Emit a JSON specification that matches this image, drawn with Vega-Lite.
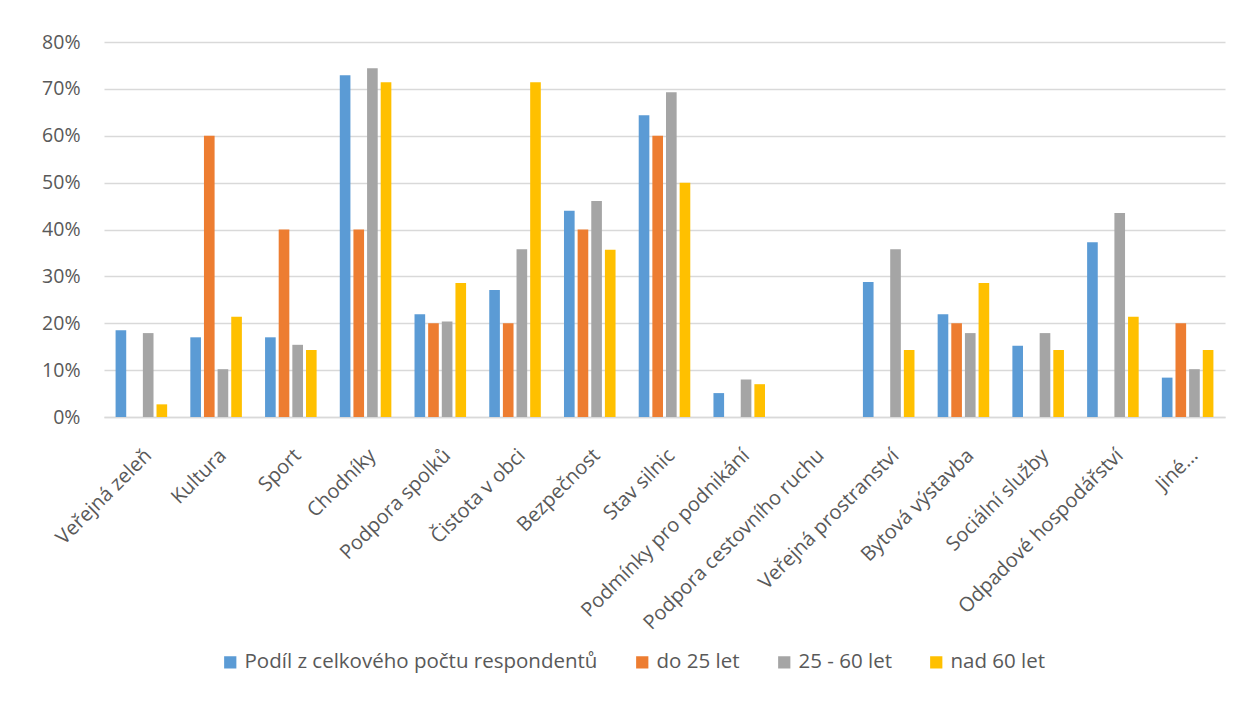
{
  "$schema": "https://vega.github.io/schema/vega-lite/v6.json",
  "autosize": {"type": "none"},
  "width": 1121,
  "height": 375,
  "padding": {"left": 104, "top": 42, "right": 17, "bottom": 305},
  "background": "white",
  "datasets": {
    "wide": [
      {"oblast": "Veřejná zeleň", "celkem": 18.5, "do25": 0, "s25_60": 17.9, "nad60": 2.7},
      {"oblast": "Kultura", "celkem": 17.0, "do25": 60, "s25_60": 10.2, "nad60": 21.4},
      {"oblast": "Sport", "celkem": 17.0, "do25": 40, "s25_60": 15.4, "nad60": 14.3},
      {"oblast": "Chodníky", "celkem": 72.9, "do25": 40, "s25_60": 74.4, "nad60": 71.4},
      {"oblast": "Podpora spolků", "celkem": 21.9, "do25": 20, "s25_60": 20.4, "nad60": 28.6},
      {"oblast": "Čistota v obci", "celkem": 27.1, "do25": 20, "s25_60": 35.8, "nad60": 71.4},
      {"oblast": "Bezpečnost", "celkem": 44.0, "do25": 40, "s25_60": 46.1, "nad60": 35.7},
      {"oblast": "Stav silnic", "celkem": 64.4, "do25": 60, "s25_60": 69.3, "nad60": 50.0},
      {"oblast": "Podmínky pro podnikání", "celkem": 5.1, "do25": 0, "s25_60": 8.0, "nad60": 7.0},
      {"oblast": "Podpora cestovního ruchu", "celkem": 0, "do25": 0, "s25_60": 0, "nad60": 0},
      {"oblast": "Veřejná prostranství", "celkem": 28.8, "do25": 0, "s25_60": 35.8, "nad60": 14.3},
      {"oblast": "Bytová výstavba", "celkem": 21.9, "do25": 20, "s25_60": 17.9, "nad60": 28.6},
      {"oblast": "Sociální služby", "celkem": 15.2, "do25": 0, "s25_60": 17.9, "nad60": 14.3},
      {"oblast": "Odpadové hospodářství", "celkem": 37.3, "do25": 0, "s25_60": 43.5, "nad60": 21.4},
      {"oblast": "Jiné...", "celkem": 8.4, "do25": 20, "s25_60": 10.2, "nad60": 14.3}
    ]
  },
  "data": {"name": "wide"},
  "transform": [
    {"fold": ["celkem", "do25", "s25_60", "nad60"], "as": ["key", "pct"]},
    {"lookup": "key", "from": {"data": {"values": [
      {"key": "celkem", "serie": "Podíl z celkového počtu respondentů", "ord": 0},
      {"key": "do25", "serie": "do 25 let", "ord": 1},
      {"key": "s25_60", "serie": "25 - 60 let", "ord": 2},
      {"key": "nad60", "serie": "nad 60 let", "ord": 3}
    ]}, "key": "key", "fields": ["serie", "ord"]}}
  ],
  "mark": {"type": "bar"},
  "encoding": {
    "x": {
      "field": "oblast", "type": "nominal", "sort": null,
      "scale": {"paddingInner": 0.31, "paddingOuter": 0.155},
      "axis": {
        "title": null, "labelAngle": -45, "labelAlign": "right", "labelBaseline": "top",
        "labelFont": "Open Sans", "labelFontSize": 20, "labelColor": "#595959",
        "ticks": false, "domain": true, "domainColor": "#D9D9D9", "domainWidth": 1.5,
        "labelPadding": 28, "labelDx": -16, "labelLimit": 400
      }
    },
    "xOffset": {
      "field": "serie", "type": "nominal",
      "sort": ["Podíl z celkového počtu respondentů", "do 25 let", "25 - 60 let", "nad 60 let"],
      "scale": {"paddingInner": 0.22}
    },
    "y": {
      "field": "pct", "type": "quantitative",
      "scale": {"domain": [0, 80], "nice": false},
      "axis": {
        "title": null, "values": [0, 10, 20, 30, 40, 50, 60, 70, 80],
        "labelExpr": "datum.value + '%'",
        "labelFont": "Open Sans", "labelFontSize": 19.5, "labelColor": "#595959",
        "ticks": false, "domain": false, "labelPadding": 24,
        "grid": true, "gridColor": "#D9D9D9", "gridWidth": 1.5
      }
    },
    "color": {
      "field": "serie", "type": "nominal",
      "sort": ["Podíl z celkového počtu respondentů", "do 25 let", "25 - 60 let", "nad 60 let"],
      "scale": {"range": ["#5B9BD5", "#ED7D31", "#A5A5A5", "#FFC000"]},
      "legend": {
        "title": null, "orient": "none", "direction": "horizontal",
        "legendX": 116, "legendY": 610,
        "symbolType": "square", "symbolSize": 150, "symbolStrokeWidth": 0,
        "labelFont": "Open Sans", "labelFontSize": 20.5, "labelColor": "#595959",
        "labelOffset": 4, "columnPadding": 34, "labelLimit": 500
      }
    }
  },
  "config": {
    "view": {"stroke": null}
  }
}
